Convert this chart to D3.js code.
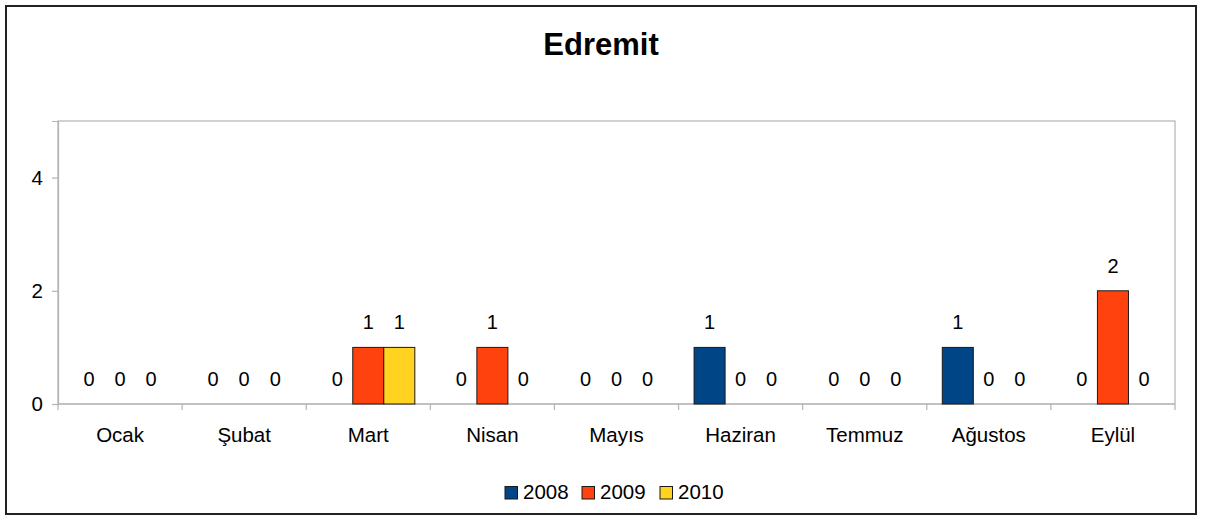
<!DOCTYPE html>
<html>
<head>
<meta charset="utf-8">
<script src="https://cdn.jsdelivr.net/npm/d3@7"></script>
<style>
  body { margin: 0; background: #fff; }
  svg text { font-family: "Liberation Sans", Arial, sans-serif; fill: #000; }
</style>
</head>
<body>
<svg id="chart" width="1216" height="516"></svg>
<script>
const title = "Edremit";
const months = ["Ocak", "Şubat", "Mart", "Nisan", "Mayıs", "Haziran", "Temmuz", "Ağustos", "Eylül"];
const seriesNames = ["2008", "2009", "2010"];
const values2008 = [0, 0, 0, 0, 0, 1, 0, 1, 0];
const values2009 = [0, 0, 1, 1, 0, 0, 0, 0, 2];
const values2010 = [0, 0, 1, 0, 0, 0, 0, 0, 0];
const yTicks = [0, 2, 4];
const yMax = 5;
const colors = ["#004586", "#ff420e", "#ffd320"];

const seriesValues = [values2008, values2009, values2010];

const svg = d3.select("#chart");
const plot = { left: 58, right: 1175, top: 121, bottom: 404 };

// outer border
svg.append("rect").attr("x", 6).attr("y", 6).attr("width", 1190).attr("height", 508)
  .attr("fill", "#fff").attr("stroke", "#222").attr("stroke-width", 2);

// title
svg.append("text").attr("x", 601).attr("y", 54.5).attr("text-anchor", "middle")
  .style("font-size", "31px").style("font-weight", "bold").text(title);

const x0 = d3.scaleBand().domain(months).range([plot.left, plot.right]).paddingInner(0).paddingOuter(0);
const x1 = d3.scaleBand().domain(seriesNames).range([x0.bandwidth() * 0.125, x0.bandwidth() * 0.875]);
const y = d3.scaleLinear().domain([0, yMax]).range([plot.bottom, plot.top]);

// plot frame
svg.append("rect").attr("x", plot.left).attr("y", plot.top)
  .attr("width", plot.right - plot.left).attr("height", plot.bottom - plot.top)
  .attr("fill", "none").attr("stroke", "#b3b3b3").attr("stroke-width", 1.2);

// y axis
const yAxis = d3.axisLeft(y).tickValues(yTicks).tickSize(6).tickPadding(9).tickFormat(d3.format("d"));
const gy = svg.append("g").attr("transform", `translate(${plot.left},0)`).call(yAxis);
gy.select(".domain").attr("stroke", "#b3b3b3").attr("stroke-width", 1.2);
gy.selectAll(".tick line").attr("stroke", "#b3b3b3").attr("stroke-width", 1.2);
gy.selectAll(".tick text").style("font-size", "20.5px").attr("font-family", null);

// x axis: ticks at category boundaries
const boundaries = months.map(m => x0(m)).concat([plot.right]);
const xb = d3.scaleLinear().domain([0, 1]).range([0, 1]);
const gx = svg.append("g").attr("transform", `translate(0,${plot.bottom})`);
gx.append("line").attr("x1", plot.left).attr("x2", plot.right).attr("y1", 0).attr("y2", 0)
  .attr("stroke", "#b3b3b3").attr("stroke-width", 1.2);
gx.selectAll("line.tk").data(boundaries).join("line").attr("class", "tk")
  .attr("x1", d => d).attr("x2", d => d).attr("y1", 0).attr("y2", 6)
  .attr("stroke", "#b3b3b3").attr("stroke-width", 1.2);
gx.selectAll("text").data(months).join("text")
  .attr("x", d => x0(d) + x0.bandwidth() / 2).attr("y", 37.5)
  .attr("text-anchor", "middle").style("font-size", "20.5px").text(d => d);

// bars
const data = [];
months.forEach((m, i) => seriesNames.forEach((s, j) => data.push({ m, s, j, v: seriesValues[j][i] })));

svg.append("g").selectAll("rect").data(data.filter(d => d.v > 0)).join("rect")
  .attr("x", d => x0(d.m) + x1(d.s))
  .attr("y", d => y(d.v))
  .attr("width", x1.bandwidth())
  .attr("height", d => y(0) - y(d.v))
  .attr("fill", d => colors[d.j])
  .attr("stroke", "#1a1a1a").attr("stroke-width", 1);

// value labels
svg.append("g").selectAll("text").data(data).join("text")
  .attr("x", d => x0(d.m) + x1(d.s) + x1.bandwidth() / 2)
  .attr("y", d => y(d.v) - 18)
  .attr("text-anchor", "middle").style("font-size", "20px").text(d => d.v);

// legend
const legendX = [505, 582, 660];
const lg = svg.append("g");
seriesNames.forEach((s, j) => {
  lg.append("rect").attr("x", legendX[j]).attr("y", 486.5).attr("width", 12.5).attr("height", 12.5)
    .attr("fill", colors[j]).attr("stroke", "#1a1a1a").attr("stroke-width", 1);
  lg.append("text").attr("x", legendX[j] + 18).attr("y", 498.5).style("font-size", "20.5px").text(s);
});
</script>
</body>
</html>
